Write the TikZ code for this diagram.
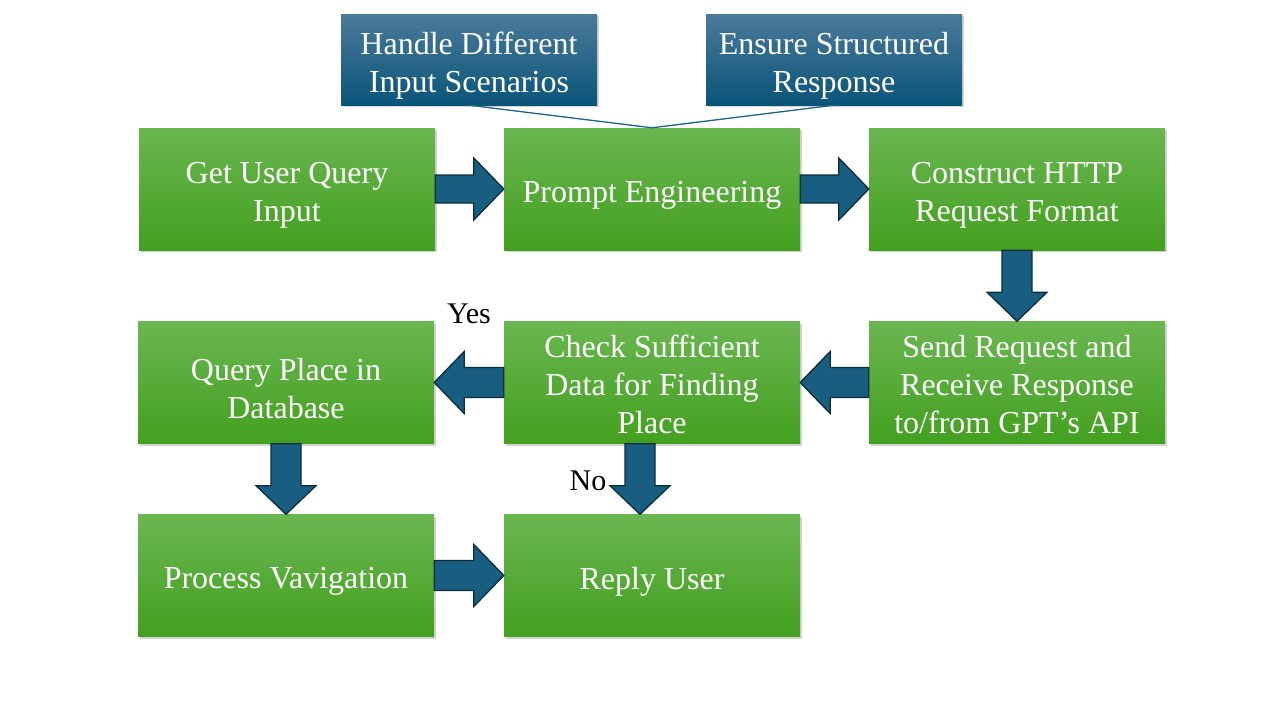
\documentclass[tikz,border=0pt]{standalone}
\usepackage{fontspec}
\setmainfont{Liberation Serif}
\usetikzlibrary{calc,shadows}
\definecolor{gtop}{HTML}{6AB651}
\definecolor{gbot}{HTML}{43A01F}
\definecolor{btop}{HTML}{4A7A9A}
\definecolor{bbot}{HTML}{0A5479}
\definecolor{afill}{HTML}{175E80}
\definecolor{aline}{HTML}{0C2C3D}
\definecolor{tline}{HTML}{1F6386}
\tikzset{
  boxtext/.style={text=white, align=center, inner sep=0pt,
    font=\fontsize{32pt}{38pt}\selectfont},
  gbox/.style={rectangle, minimum width=296pt, minimum height=122pt, inner sep=0pt,
    top color=gtop, bottom color=gbot,
    drop shadow={shadow xshift=1.5pt, shadow yshift=-2pt, opacity=0.35}},
  bbox/.style={rectangle, minimum width=256pt, minimum height=91pt, inner sep=0pt,
    top color=btop, bottom color=bbot,
    drop shadow={shadow xshift=1.5pt, shadow yshift=-2pt, opacity=0.35}},
  barrow/.style={fill=afill, draw=aline, line width=1.3pt, line join=miter},
  tie/.style={draw=tline, line width=1.3pt},
  lab/.style={font=\fontsize{30pt}{36pt}\selectfont, text=black, inner sep=0pt}
}
\begin{document}
\begin{tikzpicture}[x=1pt,y=-1pt]
\useasboundingbox (0,0) rectangle (1280,720);
% boxes
\node[gbox, label={[boxtext,yshift=-6pt]center:Get User Query\\Input}] (get) at (287,189) {};
\node[gbox, label={[boxtext,yshift=-6pt]center:Prompt Engineering}] (prompt) at (652,189) {};
\node[gbox, label={[boxtext,yshift=-6pt]center:Construct HTTP\\Request Format}] (http) at (1017,189) {};
\node[gbox, label={[boxtext,yshift=-6pt]center:Query Place in\\Database}] (query) at (286,382.5) {};
\node[gbox, label={[boxtext,yshift=-2pt]center:Check Sufficient\\Data for Finding\\Place}] (check) at (652,382.5) {};
\node[gbox, label={[boxtext,yshift=-2pt]center:Send Request and\\Receive Response\\to/from GPT’s API}] (send) at (1017,382.5) {};
\node[gbox, label={[boxtext,yshift=-6pt]center:Process Vavigation}] (proc) at (286,575.5) {};
\node[gbox, label={[boxtext,yshift=-6pt]center:Reply User}] (reply) at (652,575.5) {};
\node[bbox, label={[boxtext,yshift=-6pt]center:Handle Different\\Input Scenarios}] (handle) at (469,59.5) {};
\node[bbox, label={[boxtext,yshift=-6pt]center:Ensure Structured\\Response}] (ensure) at (834,59.5) {};
% thin ties
\draw[tie] (handle.south) -- (prompt.north);
\draw[tie] (ensure.south) -- (prompt.north);
% right arrows
\draw[barrow] ($(get.east)+(0,-14)$) -- ($(prompt.west)+(-30,-14)$) -- ($(prompt.west)+(-30,-31)$) -- (prompt.west)
  -- ($(prompt.west)+(-30,31)$) -- ($(prompt.west)+(-30,14)$) -- ($(get.east)+(0,14)$) -- cycle;
\draw[barrow] ($(prompt.east)+(0,-14)$) -- ($(http.west)+(-30,-14)$) -- ($(http.west)+(-30,-31)$) -- (http.west)
  -- ($(http.west)+(-30,31)$) -- ($(http.west)+(-30,14)$) -- ($(prompt.east)+(0,14)$) -- cycle;
\draw[barrow] ($(proc.east)+(0,-15)$) -- ($(reply.west)+(-30,-15)$) -- ($(reply.west)+(-30,-31)$) -- (reply.west)
  -- ($(reply.west)+(-30,31)$) -- ($(reply.west)+(-30,15)$) -- ($(proc.east)+(0,15)$) -- cycle;
% left arrows
\draw[barrow] ($(send.west)+(0,-15)$) -- ($(check.east)+(30,-15)$) -- ($(check.east)+(30,-31)$) -- (check.east)
  -- ($(check.east)+(30,31)$) -- ($(check.east)+(30,15)$) -- ($(send.west)+(0,15)$) -- cycle;
\draw[barrow] ($(check.west)+(0,-15)$) -- ($(query.east)+(30,-15)$) -- ($(query.east)+(30,-31)$) -- (query.east)
  -- ($(query.east)+(30,31)$) -- ($(query.east)+(30,15)$) -- ($(check.west)+(0,15)$) -- cycle;
% down arrows
\draw[barrow] ($(http.south)+(-15,0)$) -- ($(http.south)+(-15,42)$) -- ($(http.south)+(-30,42)$) -- (send.north)
  -- ($(http.south)+(30,42)$) -- ($(http.south)+(15,42)$) -- ($(http.south)+(15,0)$) -- cycle;
\draw[barrow] ($(query.south)+(-15,0)$) -- ($(query.south)+(-15,42)$) -- ($(query.south)+(-30,42)$) -- (proc.north)
  -- ($(query.south)+(30,42)$) -- ($(query.south)+(15,42)$) -- ($(query.south)+(15,0)$) -- cycle;
\coordinate (cs) at ($(check.south)+(-12,0)$);
\coordinate (rn) at ($(reply.north)+(-12,0)$);
\draw[barrow] ($(cs)+(-15,0)$) -- ($(cs)+(-15,42)$) -- ($(cs)+(-30,42)$) -- (rn)
  -- ($(cs)+(30,42)$) -- ($(cs)+(15,42)$) -- ($(cs)+(15,0)$) -- cycle;
% labels
\node[lab] (yes) at (469,314) {Yes};
\node[lab] (no) at (588,481) {No};
\end{tikzpicture}
\end{document}
